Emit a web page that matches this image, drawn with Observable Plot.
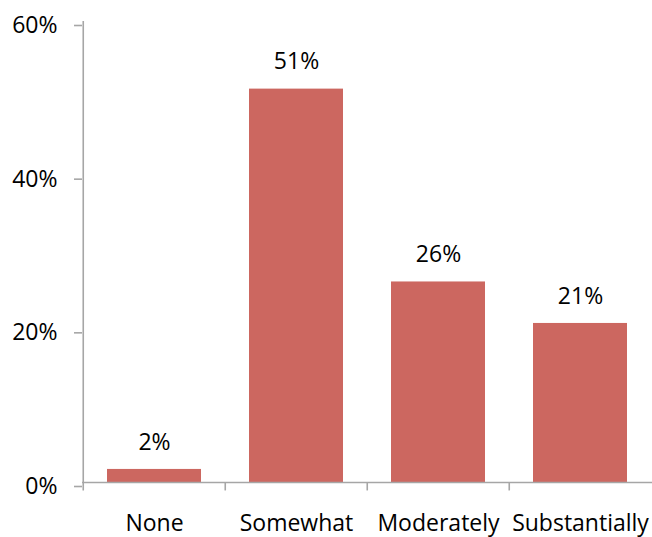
<!DOCTYPE html>
<html>
<head>
<meta charset="utf-8">
<script src="https://cdn.jsdelivr.net/npm/d3@7"></script>
<script src="https://cdn.jsdelivr.net/npm/@observablehq/plot@0.6"></script>
<style>
  html, body { margin: 0; padding: 0; background: #fff; overflow: hidden; }
  #chart svg { display: block; }
</style>
</head>
<body>
<div id="chart"></div>
<script>
const categories = ["None", "Somewhat", "Moderately", "Substantially"];
const values = [0.017, 0.512, 0.261, 0.207];
const labels = ["2%", "51%", "26%", "21%"];
const yTicks = [0, 0.2, 0.4, 0.6];

const data = categories.map((c, i) => ({category: c, value: values[i], label: labels[i]}));

const W = 652, H = 537;
const mL = 82, mR = 0, mT = 21, mB = 55;
const step = (W - mL - mR) / categories.length;
const font = "'Open Sans', Lato, sans-serif";
const axisColor = "#a6a6a6";
const fs = 23;

const chart = Plot.plot({
  width: W,
  height: H,
  marginLeft: mL,
  marginRight: mR,
  marginTop: mT,
  marginBottom: mB,
  style: {fontFamily: font, background: "#fff", overflow: "visible"},
  x: {domain: categories, paddingInner: 0.335, paddingOuter: 0.1675, axis: null, label: null},
  y: {domain: [0, 0.6], axis: null, label: null},
  marks: [
    Plot.barY(data, {x: "category", y: "value", fill: "#cc6760"}),
    // axis lines
    Plot.ruleY([0], {stroke: axisColor, strokeWidth: 1.6}),
    Plot.ruleX(categories.slice(0, 1), {x: d => d, dx: -step / 2, y1: 0.6, y2: -0.011, stroke: axisColor, strokeWidth: 1.6}),
    // x boundary ticks
    Plot.ruleX(categories.slice(1), {x: d => d, dx: -step / 2, y1: 0, y2: -0.011, stroke: axisColor, strokeWidth: 1.6}),
    Plot.axisY({ticks: yTicks, tickFormat: d3.format(".0%"), tickSize: 8, tickPadding: 17, fontSize: fs, stroke: axisColor, strokeWidth: 1.6, fill: "#000", dy: 4, label: null}),
    Plot.axisX({tickSize: 0, tickPadding: 32, fontSize: fs, fill: "#000", label: null}),
    Plot.text(data, {x: "category", y: "value", text: "label", dy: -27, fontSize: fs, fill: "#000"})
  ]
});
document.getElementById("chart").appendChild(chart);
</script>
</body>
</html>
